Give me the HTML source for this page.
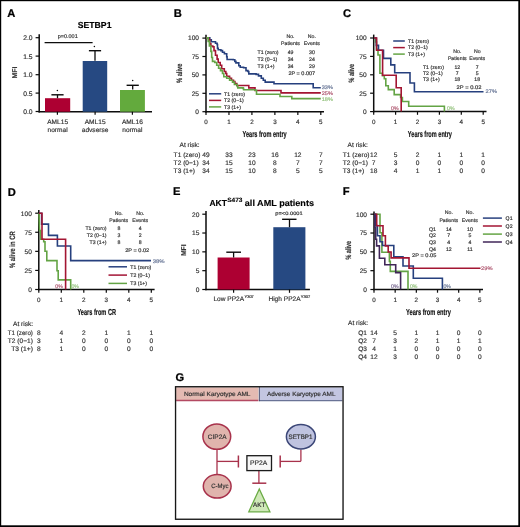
<!DOCTYPE html>
<html><head><meta charset="utf-8"><style>
html,body{margin:0;padding:0;background:#fff;}
body{width:520px;height:527px;overflow:hidden;}
svg{display:block;font-family:"Liberation Sans", sans-serif;text-rendering:geometricPrecision;}
</style></head><body>
<svg width="520" height="527" viewBox="0 0 520 527">
<defs><filter id="bl" x="0" y="0" width="520" height="527" filterUnits="userSpaceOnUse"><feGaussianBlur stdDeviation="0.25"/></filter></defs>
<rect x="0" y="0" width="520" height="527" fill="#fff"/>
<g filter="url(#bl)">
<rect x="0" y="0" width="520" height="527" fill="#fff"/>
<text transform="translate(7.30,17.20) scale(0.1)" x="0" y="0" font-size="112" font-weight="bold" fill="#000" stroke="#000" stroke-width="2.5">A</text>
<text transform="translate(94.60,25.00) scale(0.1)" x="0" y="31.15" font-size="87.00" text-anchor="middle" fill="#000" font-weight="bold" stroke="#000" stroke-width="1.60" textLength="338.00" lengthAdjust="spacingAndGlyphs">SETBP1</text>
<text transform="translate(67.70,36.30) scale(0.1)" x="0" y="19.33" font-size="54.00" text-anchor="middle" fill="#333333" stroke="#333333" stroke-width="1.80" textLength="200.00" lengthAdjust="spacingAndGlyphs">p=0.001</text>
<line x1="44.60" y1="42.60" x2="92.60" y2="42.60" stroke="#0a0a0a" stroke-width="1.35"/>
<line x1="39.20" y1="34.30" x2="39.20" y2="112.40" stroke="#0a0a0a" stroke-width="1.5"/>
<line x1="38.50" y1="111.70" x2="152.00" y2="111.70" stroke="#0a0a0a" stroke-width="1.5"/>
<line x1="35.60" y1="37.70" x2="39.20" y2="37.70" stroke="#0a0a0a" stroke-width="1.2"/>
<text transform="translate(32.60,37.70) scale(0.1)" x="0" y="23.99" font-size="67.00" text-anchor="end" fill="#333333" stroke="#333333" stroke-width="1.80" textLength="94.00" lengthAdjust="spacingAndGlyphs">2.0</text>
<line x1="35.60" y1="56.10" x2="39.20" y2="56.10" stroke="#0a0a0a" stroke-width="1.2"/>
<text transform="translate(32.60,56.10) scale(0.1)" x="0" y="23.99" font-size="67.00" text-anchor="end" fill="#333333" stroke="#333333" stroke-width="1.80" textLength="94.00" lengthAdjust="spacingAndGlyphs">1.5</text>
<line x1="35.60" y1="74.70" x2="39.20" y2="74.70" stroke="#0a0a0a" stroke-width="1.2"/>
<text transform="translate(32.60,74.70) scale(0.1)" x="0" y="23.99" font-size="67.00" text-anchor="end" fill="#333333" stroke="#333333" stroke-width="1.80" textLength="94.00" lengthAdjust="spacingAndGlyphs">1.0</text>
<line x1="35.60" y1="93.10" x2="39.20" y2="93.10" stroke="#0a0a0a" stroke-width="1.2"/>
<text transform="translate(32.60,93.10) scale(0.1)" x="0" y="23.99" font-size="67.00" text-anchor="end" fill="#333333" stroke="#333333" stroke-width="1.80" textLength="94.00" lengthAdjust="spacingAndGlyphs">0.5</text>
<line x1="35.60" y1="111.50" x2="39.20" y2="111.50" stroke="#0a0a0a" stroke-width="1.2"/>
<text transform="translate(32.60,111.50) scale(0.1)" x="0" y="23.99" font-size="67.00" text-anchor="end" fill="#333333" stroke="#333333" stroke-width="1.80" textLength="94.00" lengthAdjust="spacingAndGlyphs">0.0</text>
<text transform="translate(14.00,72.60) rotate(-90) scale(0.1)" x="0" y="25.06" font-size="70.00" text-anchor="middle" fill="#333333" font-weight="bold" stroke="#333333" stroke-width="1.60" textLength="120.00" lengthAdjust="spacingAndGlyphs">MFI</text>
<rect x="45.00" y="98.20" width="25.20" height="13.50" fill="#ad0330" stroke="none" stroke-width="0"/>
<rect x="82.70" y="61.00" width="24.50" height="50.70" fill="#284a82" stroke="none" stroke-width="0"/>
<rect x="120.00" y="90.00" width="24.90" height="21.70" fill="#64aa3c" stroke="none" stroke-width="0"/>
<line x1="57.50" y1="98.20" x2="57.50" y2="94.80" stroke="#0a0a0a" stroke-width="1.3"/>
<line x1="51.40" y1="94.80" x2="63.60" y2="94.80" stroke="#0a0a0a" stroke-width="1.4"/>
<line x1="95.00" y1="60.80" x2="95.00" y2="50.70" stroke="#0a0a0a" stroke-width="1.3"/>
<line x1="88.90" y1="50.70" x2="101.10" y2="50.70" stroke="#0a0a0a" stroke-width="1.4"/>
<line x1="132.70" y1="89.60" x2="132.70" y2="85.30" stroke="#0a0a0a" stroke-width="1.3"/>
<line x1="126.60" y1="85.30" x2="138.80" y2="85.30" stroke="#0a0a0a" stroke-width="1.4"/>
<circle cx="57.4" cy="90.4" r="0.75" fill="#111"/>
<circle cx="94.4" cy="46.5" r="0.75" fill="#111"/>
<circle cx="132.7" cy="80.6" r="0.75" fill="#111"/>
<line x1="57.40" y1="111.70" x2="57.40" y2="114.80" stroke="#0a0a0a" stroke-width="1.2"/>
<line x1="95.10" y1="111.70" x2="95.10" y2="114.80" stroke="#0a0a0a" stroke-width="1.2"/>
<line x1="132.40" y1="111.70" x2="132.40" y2="114.80" stroke="#0a0a0a" stroke-width="1.2"/>
<text transform="translate(57.60,121.80) scale(0.1)" x="0" y="23.63" font-size="66.00" text-anchor="middle" fill="#333333" stroke="#333333" stroke-width="1.80">AML15</text>
<text transform="translate(57.60,130.40) scale(0.1)" x="0" y="17.16" font-size="66.00" text-anchor="middle" fill="#333333" stroke="#333333" stroke-width="1.80">normal</text>
<text transform="translate(95.10,121.80) scale(0.1)" x="0" y="23.63" font-size="66.00" text-anchor="middle" fill="#333333" stroke="#333333" stroke-width="1.80">AML15</text>
<text transform="translate(95.10,130.40) scale(0.1)" x="0" y="17.16" font-size="66.00" text-anchor="middle" fill="#333333" stroke="#333333" stroke-width="1.80">advserse</text>
<text transform="translate(132.40,121.80) scale(0.1)" x="0" y="23.63" font-size="66.00" text-anchor="middle" fill="#333333" stroke="#333333" stroke-width="1.80">AML16</text>
<text transform="translate(132.40,130.40) scale(0.1)" x="0" y="17.16" font-size="66.00" text-anchor="middle" fill="#333333" stroke="#333333" stroke-width="1.80">normal</text>
<text transform="translate(173.80,17.30) scale(0.1)" x="0" y="0" font-size="112" font-weight="bold" fill="#000" stroke="#000" stroke-width="2.5">B</text>
<line x1="206.00" y1="34.70" x2="206.00" y2="112.40" stroke="#0a0a0a" stroke-width="1.5"/>
<line x1="205.30" y1="111.70" x2="324.00" y2="111.70" stroke="#0a0a0a" stroke-width="1.5"/>
<line x1="202.40" y1="38.10" x2="206.00" y2="38.10" stroke="#0a0a0a" stroke-width="1.2"/>
<text transform="translate(199.00,38.10) scale(0.1)" x="0" y="23.63" font-size="66.00" text-anchor="end" fill="#333333" stroke="#333333" stroke-width="1.80">100</text>
<line x1="202.40" y1="56.50" x2="206.00" y2="56.50" stroke="#0a0a0a" stroke-width="1.2"/>
<text transform="translate(199.00,56.50) scale(0.1)" x="0" y="23.63" font-size="66.00" text-anchor="end" fill="#333333" stroke="#333333" stroke-width="1.80">75</text>
<line x1="202.40" y1="74.90" x2="206.00" y2="74.90" stroke="#0a0a0a" stroke-width="1.2"/>
<text transform="translate(199.00,74.90) scale(0.1)" x="0" y="23.63" font-size="66.00" text-anchor="end" fill="#333333" stroke="#333333" stroke-width="1.80">50</text>
<line x1="202.40" y1="93.30" x2="206.00" y2="93.30" stroke="#0a0a0a" stroke-width="1.2"/>
<text transform="translate(199.00,93.30) scale(0.1)" x="0" y="23.63" font-size="66.00" text-anchor="end" fill="#333333" stroke="#333333" stroke-width="1.80">25</text>
<line x1="202.40" y1="111.70" x2="206.00" y2="111.70" stroke="#0a0a0a" stroke-width="1.2"/>
<text transform="translate(199.00,111.70) scale(0.1)" x="0" y="23.63" font-size="66.00" text-anchor="end" fill="#333333" stroke="#333333" stroke-width="1.80">0</text>
<line x1="206.00" y1="111.70" x2="206.00" y2="114.90" stroke="#0a0a0a" stroke-width="1.2"/>
<text transform="translate(206.00,121.50) scale(0.1)" x="0" y="22.55" font-size="63.00" text-anchor="middle" fill="#333333" stroke="#333333" stroke-width="1.80">0</text>
<line x1="228.96" y1="111.70" x2="228.96" y2="114.90" stroke="#0a0a0a" stroke-width="1.2"/>
<text transform="translate(228.96,121.50) scale(0.1)" x="0" y="22.55" font-size="63.00" text-anchor="middle" fill="#333333" stroke="#333333" stroke-width="1.80">1</text>
<line x1="251.92" y1="111.70" x2="251.92" y2="114.90" stroke="#0a0a0a" stroke-width="1.2"/>
<text transform="translate(251.92,121.50) scale(0.1)" x="0" y="22.55" font-size="63.00" text-anchor="middle" fill="#333333" stroke="#333333" stroke-width="1.80">2</text>
<line x1="274.88" y1="111.70" x2="274.88" y2="114.90" stroke="#0a0a0a" stroke-width="1.2"/>
<text transform="translate(274.88,121.50) scale(0.1)" x="0" y="22.55" font-size="63.00" text-anchor="middle" fill="#333333" stroke="#333333" stroke-width="1.80">3</text>
<line x1="297.84" y1="111.70" x2="297.84" y2="114.90" stroke="#0a0a0a" stroke-width="1.2"/>
<text transform="translate(297.84,121.50) scale(0.1)" x="0" y="22.55" font-size="63.00" text-anchor="middle" fill="#333333" stroke="#333333" stroke-width="1.80">4</text>
<line x1="320.80" y1="111.70" x2="320.80" y2="114.90" stroke="#0a0a0a" stroke-width="1.2"/>
<text transform="translate(320.80,121.50) scale(0.1)" x="0" y="22.55" font-size="63.00" text-anchor="middle" fill="#333333" stroke="#333333" stroke-width="1.80">5</text>
<text transform="translate(179.20,73.30) rotate(-90) scale(0.1)" x="0" y="27.92" font-size="78.00" text-anchor="middle" fill="#333333" font-weight="bold" stroke="#333333" stroke-width="1.60" textLength="196.00" lengthAdjust="spacingAndGlyphs">% alive</text>
<text transform="translate(264.60,133.80) scale(0.1)" x="0" y="31.50" font-size="88.00" text-anchor="middle" fill="#111" font-weight="bold" stroke="#111" stroke-width="1.60" textLength="442.00" lengthAdjust="spacingAndGlyphs">Years from entry</text>
<polyline points="206.30,37.90 209.80,37.90 209.80,39.80 211.30,39.80 211.30,41.80 215.50,41.80 215.50,43.30 217.10,43.30 217.10,44.50 217.50,44.50 217.50,48.30 218.20,48.30 218.20,49.80 220.90,49.80 220.90,50.60 222.50,50.60 222.50,52.20 224.40,52.20 224.40,53.70 226.70,53.70 226.70,56.80 227.10,56.80 227.10,59.50 233.20,59.50 233.20,59.80 234.80,59.80 234.80,61.40 235.90,61.40 235.90,62.90 238.80,62.90 238.80,65.80 240.20,65.80 240.20,67.20 243.60,67.20 243.60,67.70 246.00,67.70 246.00,70.60 247.90,70.60 247.90,71.50 248.80,71.50 248.80,73.90 256.10,73.90 256.10,74.40 258.50,74.40 258.50,75.90 261.30,75.90 261.30,78.30 263.30,78.30 263.30,80.20 265.20,80.20 265.20,82.10 273.80,82.10 273.80,82.10 274.00,82.10 274.00,83.80 313.00,83.80 313.00,83.80 313.20,83.80 313.20,87.70 320.80,87.70 320.80,87.70" fill="none" stroke="#27407e" stroke-width="1.6" stroke-linejoin="miter"/>
<polyline points="206.30,37.90 208.60,37.90 208.60,39.80 209.80,39.80 209.80,43.70 210.90,43.70 210.90,46.00 212.80,46.00 212.80,46.80 214.00,46.80 214.00,50.60 215.50,50.60 215.50,55.20 217.10,55.20 217.10,59.10 218.20,59.10 218.20,62.50 220.20,62.50 220.20,65.20 221.70,65.20 221.70,68.70 224.30,68.70 224.30,71.50 225.80,71.50 225.80,73.50 226.70,73.50 226.70,76.30 229.60,76.30 229.60,78.30 231.50,78.30 231.50,80.20 233.50,80.20 233.50,81.60 234.90,81.60 234.90,83.60 236.80,83.60 236.80,85.50 248.40,85.50 248.40,85.50 248.80,85.50 248.80,87.90 254.60,87.90 254.60,87.90 255.00,87.90 255.00,90.50 280.80,90.50 280.80,90.50 281.00,90.50 281.00,92.90 320.80,92.90 320.80,92.90" fill="none" stroke="#a31433" stroke-width="1.6" stroke-linejoin="miter"/>
<polyline points="206.30,37.90 208.20,37.90 208.20,41.40 209.40,41.40 209.40,46.00 210.90,46.00 210.90,51.40 211.70,51.40 211.70,57.50 212.50,57.50 212.50,61.40 214.80,61.40 214.80,62.50 216.70,62.50 216.70,65.20 218.60,65.20 218.60,68.30 220.50,68.30 220.50,70.60 222.50,70.60 222.50,73.50 223.80,73.50 223.80,76.80 226.70,76.80 226.70,78.30 229.60,78.30 229.60,80.20 232.50,80.20 232.50,82.10 234.40,82.10 234.40,84.50 237.30,84.50 237.30,86.40 237.80,86.40 237.80,87.90 243.10,87.90 243.10,88.40 243.60,88.40 243.60,89.80 255.10,89.80 255.10,90.30 256.50,90.30 256.50,94.30 279.70,94.30 279.70,94.30 280.00,94.30 280.00,96.50 291.50,96.50 291.50,96.50 291.80,96.50 291.80,98.60 320.80,98.60 320.80,98.60" fill="none" stroke="#64a444" stroke-width="1.6" stroke-linejoin="miter"/>
<text transform="translate(321.70,87.20) scale(0.1)" x="0" y="18.62" font-size="52.00" text-anchor="start" fill="#6a7898" stroke="#6a7898" stroke-width="1.80" textLength="113.00" lengthAdjust="spacingAndGlyphs">33%</text>
<text transform="translate(321.70,93.00) scale(0.1)" x="0" y="18.62" font-size="52.00" text-anchor="start" fill="#b05a72" stroke="#b05a72" stroke-width="1.80" textLength="113.00" lengthAdjust="spacingAndGlyphs">25%</text>
<text transform="translate(321.70,99.00) scale(0.1)" x="0" y="18.62" font-size="52.00" text-anchor="start" fill="#98c482" stroke="#98c482" stroke-width="1.80" textLength="113.00" lengthAdjust="spacingAndGlyphs">18%</text>
<line x1="209.00" y1="93.80" x2="221.20" y2="93.80" stroke="#27407e" stroke-width="1.5"/>
<text transform="translate(224.00,93.80) scale(0.1)" x="0" y="18.62" font-size="52.00" text-anchor="start" fill="#333333" stroke="#333333" stroke-width="1.80">T1 (zero)</text>
<line x1="209.00" y1="100.40" x2="221.20" y2="100.40" stroke="#a31433" stroke-width="1.5"/>
<text transform="translate(224.00,100.40) scale(0.1)" x="0" y="18.62" font-size="52.00" text-anchor="start" fill="#333333" stroke="#333333" stroke-width="1.80">T2 (0−1)</text>
<line x1="209.00" y1="106.90" x2="221.20" y2="106.90" stroke="#64a444" stroke-width="1.5"/>
<text transform="translate(224.00,106.90) scale(0.1)" x="0" y="18.62" font-size="52.00" text-anchor="start" fill="#333333" stroke="#333333" stroke-width="1.80">T3 (1+)</text>
<text transform="translate(290.50,36.40) scale(0.1)" x="0" y="18.62" font-size="52.00" text-anchor="middle" fill="#333333" stroke="#333333" stroke-width="1.80">No.</text>
<text transform="translate(290.50,43.50) scale(0.1)" x="0" y="18.62" font-size="52.00" text-anchor="middle" fill="#333333" stroke="#333333" stroke-width="1.80">Patients</text>
<text transform="translate(311.80,36.40) scale(0.1)" x="0" y="18.62" font-size="52.00" text-anchor="middle" fill="#333333" stroke="#333333" stroke-width="1.80">No.</text>
<text transform="translate(311.80,43.50) scale(0.1)" x="0" y="18.62" font-size="52.00" text-anchor="middle" fill="#333333" stroke="#333333" stroke-width="1.80">Events</text>
<text transform="translate(257.50,52.60) scale(0.1)" x="0" y="18.62" font-size="52.00" text-anchor="start" fill="#333333" stroke="#333333" stroke-width="1.80">T1 (zero)</text>
<text transform="translate(290.60,52.60) scale(0.1)" x="0" y="18.62" font-size="52.00" text-anchor="middle" fill="#333333" stroke="#333333" stroke-width="1.80">49</text>
<text transform="translate(312.00,52.60) scale(0.1)" x="0" y="18.62" font-size="52.00" text-anchor="middle" fill="#333333" stroke="#333333" stroke-width="1.80">30</text>
<text transform="translate(257.50,59.40) scale(0.1)" x="0" y="18.62" font-size="52.00" text-anchor="start" fill="#333333" stroke="#333333" stroke-width="1.80">T2 (0−1)</text>
<text transform="translate(290.60,59.40) scale(0.1)" x="0" y="18.62" font-size="52.00" text-anchor="middle" fill="#333333" stroke="#333333" stroke-width="1.80">34</text>
<text transform="translate(312.00,59.40) scale(0.1)" x="0" y="18.62" font-size="52.00" text-anchor="middle" fill="#333333" stroke="#333333" stroke-width="1.80">24</text>
<text transform="translate(257.50,66.10) scale(0.1)" x="0" y="18.62" font-size="52.00" text-anchor="start" fill="#333333" stroke="#333333" stroke-width="1.80">T3 (1+)</text>
<text transform="translate(290.60,66.10) scale(0.1)" x="0" y="18.62" font-size="52.00" text-anchor="middle" fill="#333333" stroke="#333333" stroke-width="1.80">34</text>
<text transform="translate(312.00,66.10) scale(0.1)" x="0" y="18.62" font-size="52.00" text-anchor="middle" fill="#333333" stroke="#333333" stroke-width="1.80">29</text>
<text transform="translate(301.80,73.40) scale(0.1)" x="0" y="18.62" font-size="52.00" text-anchor="middle" fill="#333333" stroke="#333333" stroke-width="1.80" textLength="268.00" lengthAdjust="spacingAndGlyphs">2P = 0.007</text>
<text transform="translate(179.50,144.80) scale(0.1)" x="0" y="23.63" font-size="66.00" text-anchor="start" fill="#333333" stroke="#333333" stroke-width="1.80">At risk:</text>
<text transform="translate(173.60,154.90) scale(0.1)" x="0" y="23.63" font-size="66.00" text-anchor="start" fill="#333333" stroke="#333333" stroke-width="1.80">T1 (zero)</text>
<text transform="translate(206.00,154.90) scale(0.1)" x="0" y="23.63" font-size="66.00" text-anchor="middle" fill="#333333" stroke="#333333" stroke-width="1.80">49</text>
<text transform="translate(228.96,154.90) scale(0.1)" x="0" y="23.63" font-size="66.00" text-anchor="middle" fill="#333333" stroke="#333333" stroke-width="1.80">33</text>
<text transform="translate(251.92,154.90) scale(0.1)" x="0" y="23.63" font-size="66.00" text-anchor="middle" fill="#333333" stroke="#333333" stroke-width="1.80">23</text>
<text transform="translate(274.88,154.90) scale(0.1)" x="0" y="23.63" font-size="66.00" text-anchor="middle" fill="#333333" stroke="#333333" stroke-width="1.80">16</text>
<text transform="translate(297.84,154.90) scale(0.1)" x="0" y="23.63" font-size="66.00" text-anchor="middle" fill="#333333" stroke="#333333" stroke-width="1.80">12</text>
<text transform="translate(320.80,154.90) scale(0.1)" x="0" y="23.63" font-size="66.00" text-anchor="middle" fill="#333333" stroke="#333333" stroke-width="1.80">7</text>
<text transform="translate(173.60,162.90) scale(0.1)" x="0" y="23.63" font-size="66.00" text-anchor="start" fill="#333333" stroke="#333333" stroke-width="1.80">T2 (0−1)</text>
<text transform="translate(206.00,162.90) scale(0.1)" x="0" y="23.63" font-size="66.00" text-anchor="middle" fill="#333333" stroke="#333333" stroke-width="1.80">34</text>
<text transform="translate(228.96,162.90) scale(0.1)" x="0" y="23.63" font-size="66.00" text-anchor="middle" fill="#333333" stroke="#333333" stroke-width="1.80">15</text>
<text transform="translate(251.92,162.90) scale(0.1)" x="0" y="23.63" font-size="66.00" text-anchor="middle" fill="#333333" stroke="#333333" stroke-width="1.80">10</text>
<text transform="translate(274.88,162.90) scale(0.1)" x="0" y="23.63" font-size="66.00" text-anchor="middle" fill="#333333" stroke="#333333" stroke-width="1.80">8</text>
<text transform="translate(297.84,162.90) scale(0.1)" x="0" y="23.63" font-size="66.00" text-anchor="middle" fill="#333333" stroke="#333333" stroke-width="1.80">7</text>
<text transform="translate(320.80,162.90) scale(0.1)" x="0" y="23.63" font-size="66.00" text-anchor="middle" fill="#333333" stroke="#333333" stroke-width="1.80">7</text>
<text transform="translate(173.60,170.60) scale(0.1)" x="0" y="23.63" font-size="66.00" text-anchor="start" fill="#333333" stroke="#333333" stroke-width="1.80">T3 (1+)</text>
<text transform="translate(206.00,170.60) scale(0.1)" x="0" y="23.63" font-size="66.00" text-anchor="middle" fill="#333333" stroke="#333333" stroke-width="1.80">34</text>
<text transform="translate(228.96,170.60) scale(0.1)" x="0" y="23.63" font-size="66.00" text-anchor="middle" fill="#333333" stroke="#333333" stroke-width="1.80">15</text>
<text transform="translate(251.92,170.60) scale(0.1)" x="0" y="23.63" font-size="66.00" text-anchor="middle" fill="#333333" stroke="#333333" stroke-width="1.80">10</text>
<text transform="translate(274.88,170.60) scale(0.1)" x="0" y="23.63" font-size="66.00" text-anchor="middle" fill="#333333" stroke="#333333" stroke-width="1.80">8</text>
<text transform="translate(297.84,170.60) scale(0.1)" x="0" y="23.63" font-size="66.00" text-anchor="middle" fill="#333333" stroke="#333333" stroke-width="1.80">5</text>
<text transform="translate(320.80,170.60) scale(0.1)" x="0" y="23.63" font-size="66.00" text-anchor="middle" fill="#333333" stroke="#333333" stroke-width="1.80">5</text>
<text transform="translate(343.00,17.30) scale(0.1)" x="0" y="0" font-size="112" font-weight="bold" fill="#000" stroke="#000" stroke-width="2.5">C</text>
<line x1="373.70" y1="34.60" x2="373.70" y2="112.30" stroke="#0a0a0a" stroke-width="1.5"/>
<line x1="373.00" y1="111.60" x2="486.50" y2="111.60" stroke="#0a0a0a" stroke-width="1.5"/>
<line x1="370.10" y1="38.00" x2="373.70" y2="38.00" stroke="#0a0a0a" stroke-width="1.2"/>
<text transform="translate(366.70,38.00) scale(0.1)" x="0" y="23.63" font-size="66.00" text-anchor="end" fill="#333333" stroke="#333333" stroke-width="1.80">100</text>
<line x1="370.10" y1="56.40" x2="373.70" y2="56.40" stroke="#0a0a0a" stroke-width="1.2"/>
<text transform="translate(366.70,56.40) scale(0.1)" x="0" y="23.63" font-size="66.00" text-anchor="end" fill="#333333" stroke="#333333" stroke-width="1.80">75</text>
<line x1="370.10" y1="74.80" x2="373.70" y2="74.80" stroke="#0a0a0a" stroke-width="1.2"/>
<text transform="translate(366.70,74.80) scale(0.1)" x="0" y="23.63" font-size="66.00" text-anchor="end" fill="#333333" stroke="#333333" stroke-width="1.80">50</text>
<line x1="370.10" y1="93.20" x2="373.70" y2="93.20" stroke="#0a0a0a" stroke-width="1.2"/>
<text transform="translate(366.70,93.20) scale(0.1)" x="0" y="23.63" font-size="66.00" text-anchor="end" fill="#333333" stroke="#333333" stroke-width="1.80">25</text>
<line x1="370.10" y1="111.60" x2="373.70" y2="111.60" stroke="#0a0a0a" stroke-width="1.2"/>
<text transform="translate(366.70,111.60) scale(0.1)" x="0" y="23.63" font-size="66.00" text-anchor="end" fill="#333333" stroke="#333333" stroke-width="1.80">0</text>
<line x1="373.70" y1="111.60" x2="373.70" y2="114.80" stroke="#0a0a0a" stroke-width="1.2"/>
<text transform="translate(373.70,121.40) scale(0.1)" x="0" y="22.55" font-size="63.00" text-anchor="middle" fill="#333333" stroke="#333333" stroke-width="1.80">0</text>
<line x1="395.60" y1="111.60" x2="395.60" y2="114.80" stroke="#0a0a0a" stroke-width="1.2"/>
<text transform="translate(395.60,121.40) scale(0.1)" x="0" y="22.55" font-size="63.00" text-anchor="middle" fill="#333333" stroke="#333333" stroke-width="1.80">1</text>
<line x1="417.50" y1="111.60" x2="417.50" y2="114.80" stroke="#0a0a0a" stroke-width="1.2"/>
<text transform="translate(417.50,121.40) scale(0.1)" x="0" y="22.55" font-size="63.00" text-anchor="middle" fill="#333333" stroke="#333333" stroke-width="1.80">2</text>
<line x1="439.40" y1="111.60" x2="439.40" y2="114.80" stroke="#0a0a0a" stroke-width="1.2"/>
<text transform="translate(439.40,121.40) scale(0.1)" x="0" y="22.55" font-size="63.00" text-anchor="middle" fill="#333333" stroke="#333333" stroke-width="1.80">3</text>
<line x1="461.30" y1="111.60" x2="461.30" y2="114.80" stroke="#0a0a0a" stroke-width="1.2"/>
<text transform="translate(461.30,121.40) scale(0.1)" x="0" y="22.55" font-size="63.00" text-anchor="middle" fill="#333333" stroke="#333333" stroke-width="1.80">4</text>
<line x1="483.20" y1="111.60" x2="483.20" y2="114.80" stroke="#0a0a0a" stroke-width="1.2"/>
<text transform="translate(483.20,121.40) scale(0.1)" x="0" y="22.55" font-size="63.00" text-anchor="middle" fill="#333333" stroke="#333333" stroke-width="1.80">5</text>
<text transform="translate(351.70,73.20) rotate(-90) scale(0.1)" x="0" y="27.92" font-size="78.00" text-anchor="middle" fill="#333333" font-weight="bold" stroke="#333333" stroke-width="1.60" textLength="187.00" lengthAdjust="spacingAndGlyphs">% alive</text>
<text transform="translate(429.90,133.90) scale(0.1)" x="0" y="31.50" font-size="88.00" text-anchor="middle" fill="#111" font-weight="bold" stroke="#111" stroke-width="1.60" textLength="441.00" lengthAdjust="spacingAndGlyphs">Years from entry</text>
<polyline points="374.00,38.00 375.50,38.00 375.50,42.00 376.50,42.00 376.50,49.40 378.00,49.40 378.00,55.00 379.90,55.00 379.90,73.30 382.40,73.30 382.40,75.80 384.30,75.80 384.30,78.80 385.80,78.80 385.80,85.70 388.30,85.70 388.30,89.60 394.20,89.60 394.20,94.60 400.60,94.60 400.60,97.50 402.40,97.50 402.40,101.50 408.70,101.50 408.70,106.20 444.40,106.20 444.40,111.60" fill="none" stroke="#64a444" stroke-width="1.6" stroke-linejoin="miter"/>
<polyline points="374.00,38.00 376.30,38.00 376.30,45.40 378.50,45.40 378.50,50.30 383.50,50.30 383.50,58.40 390.80,58.40 390.80,64.90 394.70,64.90 394.70,72.80 410.00,72.80 410.00,83.00 414.40,83.00 414.40,91.80 483.50,91.80" fill="none" stroke="#27407e" stroke-width="1.6" stroke-linejoin="miter"/>
<polyline points="374.00,38.00 376.60,38.00 376.60,50.30 382.60,50.30 382.60,75.30 396.20,75.30 396.20,87.70 401.20,87.70 401.20,111.60" fill="none" stroke="#a31433" stroke-width="1.6" stroke-linejoin="miter"/>
<text transform="translate(485.60,91.20) scale(0.1)" x="0" y="18.62" font-size="52.00" text-anchor="start" fill="#6a7898" stroke="#6a7898" stroke-width="1.80" textLength="115.00" lengthAdjust="spacingAndGlyphs">27%</text>
<text transform="translate(394.80,107.90) scale(0.1)" x="0" y="18.62" font-size="52.00" text-anchor="middle" fill="#b05a72" stroke="#b05a72" stroke-width="1.80">0%</text>
<text transform="translate(450.80,107.90) scale(0.1)" x="0" y="18.62" font-size="52.00" text-anchor="middle" fill="#98c482" stroke="#98c482" stroke-width="1.80">0%</text>
<line x1="393.20" y1="41.00" x2="404.80" y2="41.00" stroke="#27407e" stroke-width="1.5"/>
<text transform="translate(408.00,41.00) scale(0.1)" x="0" y="18.62" font-size="52.00" text-anchor="start" fill="#333333" stroke="#333333" stroke-width="1.80">T1 (zero)</text>
<line x1="393.20" y1="47.60" x2="404.80" y2="47.60" stroke="#a31433" stroke-width="1.5"/>
<text transform="translate(408.00,47.60) scale(0.1)" x="0" y="18.62" font-size="52.00" text-anchor="start" fill="#333333" stroke="#333333" stroke-width="1.80">T2 (0−1)</text>
<line x1="393.20" y1="54.10" x2="404.80" y2="54.10" stroke="#64a444" stroke-width="1.5"/>
<text transform="translate(408.00,54.10) scale(0.1)" x="0" y="18.62" font-size="52.00" text-anchor="start" fill="#333333" stroke="#333333" stroke-width="1.80">T3 (1+)</text>
<text transform="translate(457.30,51.50) scale(0.1)" x="0" y="18.62" font-size="52.00" text-anchor="middle" fill="#333333" stroke="#333333" stroke-width="1.80">No.</text>
<text transform="translate(457.30,57.80) scale(0.1)" x="0" y="18.62" font-size="52.00" text-anchor="middle" fill="#333333" stroke="#333333" stroke-width="1.80">Patients</text>
<text transform="translate(477.20,51.50) scale(0.1)" x="0" y="18.62" font-size="52.00" text-anchor="middle" fill="#333333" stroke="#333333" stroke-width="1.80">No</text>
<text transform="translate(477.20,57.80) scale(0.1)" x="0" y="18.62" font-size="52.00" text-anchor="middle" fill="#333333" stroke="#333333" stroke-width="1.80">Events</text>
<text transform="translate(422.90,66.80) scale(0.1)" x="0" y="18.62" font-size="52.00" text-anchor="start" fill="#333333" stroke="#333333" stroke-width="1.80">T1 (zero)</text>
<text transform="translate(457.30,66.80) scale(0.1)" x="0" y="18.62" font-size="52.00" text-anchor="middle" fill="#333333" stroke="#333333" stroke-width="1.80">12</text>
<text transform="translate(477.20,66.80) scale(0.1)" x="0" y="18.62" font-size="52.00" text-anchor="middle" fill="#333333" stroke="#333333" stroke-width="1.80">7</text>
<text transform="translate(422.90,73.10) scale(0.1)" x="0" y="18.62" font-size="52.00" text-anchor="start" fill="#333333" stroke="#333333" stroke-width="1.80">T2 (0−1)</text>
<text transform="translate(457.30,73.10) scale(0.1)" x="0" y="18.62" font-size="52.00" text-anchor="middle" fill="#333333" stroke="#333333" stroke-width="1.80">7</text>
<text transform="translate(477.20,73.10) scale(0.1)" x="0" y="18.62" font-size="52.00" text-anchor="middle" fill="#333333" stroke="#333333" stroke-width="1.80">5</text>
<text transform="translate(422.90,79.50) scale(0.1)" x="0" y="18.62" font-size="52.00" text-anchor="start" fill="#333333" stroke="#333333" stroke-width="1.80">T3 (1+)</text>
<text transform="translate(457.30,79.50) scale(0.1)" x="0" y="18.62" font-size="52.00" text-anchor="middle" fill="#333333" stroke="#333333" stroke-width="1.80">18</text>
<text transform="translate(477.20,79.50) scale(0.1)" x="0" y="18.62" font-size="52.00" text-anchor="middle" fill="#333333" stroke="#333333" stroke-width="1.80">18</text>
<text transform="translate(469.00,86.90) scale(0.1)" x="0" y="18.62" font-size="52.00" text-anchor="middle" fill="#333333" stroke="#333333" stroke-width="1.80" textLength="248.00" lengthAdjust="spacingAndGlyphs">2P = 0.02</text>
<text transform="translate(347.60,144.60) scale(0.1)" x="0" y="23.63" font-size="66.00" text-anchor="start" fill="#333333" stroke="#333333" stroke-width="1.80">At risk:</text>
<text transform="translate(342.80,154.30) scale(0.1)" x="0" y="23.63" font-size="66.00" text-anchor="start" fill="#333333" stroke="#333333" stroke-width="1.80">T1 (zero)</text>
<text transform="translate(373.70,154.30) scale(0.1)" x="0" y="23.63" font-size="66.00" text-anchor="middle" fill="#333333" stroke="#333333" stroke-width="1.80">12</text>
<text transform="translate(395.60,154.30) scale(0.1)" x="0" y="23.63" font-size="66.00" text-anchor="middle" fill="#333333" stroke="#333333" stroke-width="1.80">5</text>
<text transform="translate(417.50,154.30) scale(0.1)" x="0" y="23.63" font-size="66.00" text-anchor="middle" fill="#333333" stroke="#333333" stroke-width="1.80">2</text>
<text transform="translate(439.40,154.30) scale(0.1)" x="0" y="23.63" font-size="66.00" text-anchor="middle" fill="#333333" stroke="#333333" stroke-width="1.80">1</text>
<text transform="translate(461.30,154.30) scale(0.1)" x="0" y="23.63" font-size="66.00" text-anchor="middle" fill="#333333" stroke="#333333" stroke-width="1.80">1</text>
<text transform="translate(483.20,154.30) scale(0.1)" x="0" y="23.63" font-size="66.00" text-anchor="middle" fill="#333333" stroke="#333333" stroke-width="1.80">1</text>
<text transform="translate(342.80,162.60) scale(0.1)" x="0" y="23.63" font-size="66.00" text-anchor="start" fill="#333333" stroke="#333333" stroke-width="1.80">T2 (0−1)</text>
<text transform="translate(373.70,162.60) scale(0.1)" x="0" y="23.63" font-size="66.00" text-anchor="middle" fill="#333333" stroke="#333333" stroke-width="1.80">7</text>
<text transform="translate(395.60,162.60) scale(0.1)" x="0" y="23.63" font-size="66.00" text-anchor="middle" fill="#333333" stroke="#333333" stroke-width="1.80">3</text>
<text transform="translate(417.50,162.60) scale(0.1)" x="0" y="23.63" font-size="66.00" text-anchor="middle" fill="#333333" stroke="#333333" stroke-width="1.80">0</text>
<text transform="translate(439.40,162.60) scale(0.1)" x="0" y="23.63" font-size="66.00" text-anchor="middle" fill="#333333" stroke="#333333" stroke-width="1.80">0</text>
<text transform="translate(461.30,162.60) scale(0.1)" x="0" y="23.63" font-size="66.00" text-anchor="middle" fill="#333333" stroke="#333333" stroke-width="1.80">0</text>
<text transform="translate(483.20,162.60) scale(0.1)" x="0" y="23.63" font-size="66.00" text-anchor="middle" fill="#333333" stroke="#333333" stroke-width="1.80">0</text>
<text transform="translate(342.80,170.90) scale(0.1)" x="0" y="23.63" font-size="66.00" text-anchor="start" fill="#333333" stroke="#333333" stroke-width="1.80">T3 (1+)</text>
<text transform="translate(373.70,170.90) scale(0.1)" x="0" y="23.63" font-size="66.00" text-anchor="middle" fill="#333333" stroke="#333333" stroke-width="1.80">18</text>
<text transform="translate(395.60,170.90) scale(0.1)" x="0" y="23.63" font-size="66.00" text-anchor="middle" fill="#333333" stroke="#333333" stroke-width="1.80">4</text>
<text transform="translate(417.50,170.90) scale(0.1)" x="0" y="23.63" font-size="66.00" text-anchor="middle" fill="#333333" stroke="#333333" stroke-width="1.80">1</text>
<text transform="translate(439.40,170.90) scale(0.1)" x="0" y="23.63" font-size="66.00" text-anchor="middle" fill="#333333" stroke="#333333" stroke-width="1.80">1</text>
<text transform="translate(461.30,170.90) scale(0.1)" x="0" y="23.63" font-size="66.00" text-anchor="middle" fill="#333333" stroke="#333333" stroke-width="1.80">0</text>
<text transform="translate(483.20,170.90) scale(0.1)" x="0" y="23.63" font-size="66.00" text-anchor="middle" fill="#333333" stroke="#333333" stroke-width="1.80">0</text>
<text transform="translate(7.70,196.20) scale(0.1)" x="0" y="0" font-size="112" font-weight="bold" fill="#000" stroke="#000" stroke-width="2.5">D</text>
<line x1="38.80" y1="210.00" x2="38.80" y2="290.20" stroke="#0a0a0a" stroke-width="1.5"/>
<line x1="38.10" y1="289.50" x2="154.60" y2="289.50" stroke="#0a0a0a" stroke-width="1.5"/>
<line x1="35.20" y1="213.20" x2="38.80" y2="213.20" stroke="#0a0a0a" stroke-width="1.2"/>
<text transform="translate(31.80,213.20) scale(0.1)" x="0" y="23.63" font-size="66.00" text-anchor="end" fill="#333333" stroke="#333333" stroke-width="1.80">100</text>
<line x1="35.20" y1="232.27" x2="38.80" y2="232.27" stroke="#0a0a0a" stroke-width="1.2"/>
<text transform="translate(31.80,232.27) scale(0.1)" x="0" y="23.63" font-size="66.00" text-anchor="end" fill="#333333" stroke="#333333" stroke-width="1.80">75</text>
<line x1="35.20" y1="251.35" x2="38.80" y2="251.35" stroke="#0a0a0a" stroke-width="1.2"/>
<text transform="translate(31.80,251.35) scale(0.1)" x="0" y="23.63" font-size="66.00" text-anchor="end" fill="#333333" stroke="#333333" stroke-width="1.80">50</text>
<line x1="35.20" y1="270.43" x2="38.80" y2="270.43" stroke="#0a0a0a" stroke-width="1.2"/>
<text transform="translate(31.80,270.43) scale(0.1)" x="0" y="23.63" font-size="66.00" text-anchor="end" fill="#333333" stroke="#333333" stroke-width="1.80">25</text>
<line x1="35.20" y1="289.50" x2="38.80" y2="289.50" stroke="#0a0a0a" stroke-width="1.2"/>
<text transform="translate(31.80,289.50) scale(0.1)" x="0" y="23.63" font-size="66.00" text-anchor="end" fill="#333333" stroke="#333333" stroke-width="1.80">0</text>
<line x1="38.80" y1="289.50" x2="38.80" y2="292.70" stroke="#0a0a0a" stroke-width="1.2"/>
<text transform="translate(38.80,299.30) scale(0.1)" x="0" y="22.55" font-size="63.00" text-anchor="middle" fill="#333333" stroke="#333333" stroke-width="1.80">0</text>
<line x1="61.30" y1="289.50" x2="61.30" y2="292.70" stroke="#0a0a0a" stroke-width="1.2"/>
<text transform="translate(61.30,299.30) scale(0.1)" x="0" y="22.55" font-size="63.00" text-anchor="middle" fill="#333333" stroke="#333333" stroke-width="1.80">1</text>
<line x1="83.80" y1="289.50" x2="83.80" y2="292.70" stroke="#0a0a0a" stroke-width="1.2"/>
<text transform="translate(83.80,299.30) scale(0.1)" x="0" y="22.55" font-size="63.00" text-anchor="middle" fill="#333333" stroke="#333333" stroke-width="1.80">2</text>
<line x1="106.30" y1="289.50" x2="106.30" y2="292.70" stroke="#0a0a0a" stroke-width="1.2"/>
<text transform="translate(106.30,299.30) scale(0.1)" x="0" y="22.55" font-size="63.00" text-anchor="middle" fill="#333333" stroke="#333333" stroke-width="1.80">3</text>
<line x1="128.80" y1="289.50" x2="128.80" y2="292.70" stroke="#0a0a0a" stroke-width="1.2"/>
<text transform="translate(128.80,299.30) scale(0.1)" x="0" y="22.55" font-size="63.00" text-anchor="middle" fill="#333333" stroke="#333333" stroke-width="1.80">4</text>
<line x1="151.30" y1="289.50" x2="151.30" y2="292.70" stroke="#0a0a0a" stroke-width="1.2"/>
<text transform="translate(151.30,299.30) scale(0.1)" x="0" y="22.55" font-size="63.00" text-anchor="middle" fill="#333333" stroke="#333333" stroke-width="1.80">5</text>
<text transform="translate(12.20,249.75) rotate(-90) scale(0.1)" x="0" y="27.92" font-size="78.00" text-anchor="middle" fill="#333333" font-weight="bold" stroke="#333333" stroke-width="1.60" textLength="367.00" lengthAdjust="spacingAndGlyphs">% alive in CR</text>
<text transform="translate(96.70,311.90) scale(0.1)" x="0" y="31.50" font-size="88.00" text-anchor="middle" fill="#111" font-weight="bold" stroke="#111" stroke-width="1.60" textLength="386.00" lengthAdjust="spacingAndGlyphs">Years from CR</text>
<polyline points="39.00,213.20 41.60,213.20 41.60,224.10 48.50,224.10 48.50,235.40 57.40,235.40 57.40,246.00 70.70,246.00 70.70,260.60 151.00,260.60" fill="none" stroke="#27407e" stroke-width="1.6" stroke-linejoin="miter"/>
<polyline points="39.00,213.20 39.60,230.60 40.60,230.60 40.60,239.20 43.70,239.20 43.70,241.80 45.00,241.80 45.00,251.20 46.80,251.20 46.80,260.60 57.00,260.60 57.00,270.80 58.20,270.80 58.20,279.90 70.70,279.90 70.70,289.40" fill="none" stroke="#64a444" stroke-width="1.6" stroke-linejoin="miter"/>
<polyline points="39.00,213.20 42.00,213.20 42.00,239.20 65.60,239.20 65.60,289.40" fill="none" stroke="#a31433" stroke-width="1.6" stroke-linejoin="miter"/>
<text transform="translate(152.70,260.80) scale(0.1)" x="0" y="18.62" font-size="52.00" text-anchor="start" fill="#6a7898" stroke="#6a7898" stroke-width="1.80" textLength="120.00" lengthAdjust="spacingAndGlyphs">38%</text>
<text transform="translate(59.10,285.80) scale(0.1)" x="0" y="18.62" font-size="52.00" text-anchor="middle" fill="#b05a72" stroke="#b05a72" stroke-width="1.80">0%</text>
<text transform="translate(75.20,285.80) scale(0.1)" x="0" y="18.62" font-size="52.00" text-anchor="middle" fill="#98c482" stroke="#98c482" stroke-width="1.80">0%</text>
<line x1="108.50" y1="266.80" x2="127.00" y2="266.80" stroke="#27407e" stroke-width="1.5"/>
<text transform="translate(130.20,266.80) scale(0.1)" x="0" y="18.62" font-size="52.00" text-anchor="start" fill="#333333" stroke="#333333" stroke-width="1.80">T1 (zero)</text>
<line x1="108.50" y1="275.10" x2="127.00" y2="275.10" stroke="#a31433" stroke-width="1.5"/>
<text transform="translate(130.20,275.10) scale(0.1)" x="0" y="18.62" font-size="52.00" text-anchor="start" fill="#333333" stroke="#333333" stroke-width="1.80">T2 (0−1)</text>
<line x1="108.50" y1="283.40" x2="127.00" y2="283.40" stroke="#64a444" stroke-width="1.5"/>
<text transform="translate(130.20,283.40) scale(0.1)" x="0" y="18.62" font-size="52.00" text-anchor="start" fill="#333333" stroke="#333333" stroke-width="1.80">T3 (1+)</text>
<text transform="translate(118.70,212.80) scale(0.1)" x="0" y="18.62" font-size="52.00" text-anchor="middle" fill="#333333" stroke="#333333" stroke-width="1.80">No.</text>
<text transform="translate(118.70,219.70) scale(0.1)" x="0" y="18.62" font-size="52.00" text-anchor="middle" fill="#333333" stroke="#333333" stroke-width="1.80">Patients</text>
<text transform="translate(140.20,212.80) scale(0.1)" x="0" y="18.62" font-size="52.00" text-anchor="middle" fill="#333333" stroke="#333333" stroke-width="1.80">No.</text>
<text transform="translate(140.20,219.70) scale(0.1)" x="0" y="18.62" font-size="52.00" text-anchor="middle" fill="#333333" stroke="#333333" stroke-width="1.80">Events</text>
<text transform="translate(106.50,228.40) scale(0.1)" x="0" y="18.62" font-size="52.00" text-anchor="end" fill="#333333" stroke="#333333" stroke-width="1.80">T1 (zero)</text>
<text transform="translate(118.90,228.40) scale(0.1)" x="0" y="18.62" font-size="52.00" text-anchor="middle" fill="#333333" stroke="#333333" stroke-width="1.80">8</text>
<text transform="translate(140.20,228.40) scale(0.1)" x="0" y="18.62" font-size="52.00" text-anchor="middle" fill="#333333" stroke="#333333" stroke-width="1.80">4</text>
<text transform="translate(106.50,235.30) scale(0.1)" x="0" y="18.62" font-size="52.00" text-anchor="end" fill="#333333" stroke="#333333" stroke-width="1.80">T2 (0−1)</text>
<text transform="translate(118.90,235.30) scale(0.1)" x="0" y="18.62" font-size="52.00" text-anchor="middle" fill="#333333" stroke="#333333" stroke-width="1.80">3</text>
<text transform="translate(140.20,235.30) scale(0.1)" x="0" y="18.62" font-size="52.00" text-anchor="middle" fill="#333333" stroke="#333333" stroke-width="1.80">2</text>
<text transform="translate(106.50,241.90) scale(0.1)" x="0" y="18.62" font-size="52.00" text-anchor="end" fill="#333333" stroke="#333333" stroke-width="1.80">T3 (1+)</text>
<text transform="translate(118.90,241.90) scale(0.1)" x="0" y="18.62" font-size="52.00" text-anchor="middle" fill="#333333" stroke="#333333" stroke-width="1.80">8</text>
<text transform="translate(140.20,241.90) scale(0.1)" x="0" y="18.62" font-size="52.00" text-anchor="middle" fill="#333333" stroke="#333333" stroke-width="1.80">8</text>
<text transform="translate(137.20,250.30) scale(0.1)" x="0" y="18.62" font-size="52.00" text-anchor="middle" fill="#333333" stroke="#333333" stroke-width="1.80" textLength="240.00" lengthAdjust="spacingAndGlyphs">2P = 0.02</text>
<text transform="translate(13.00,323.70) scale(0.1)" x="0" y="23.63" font-size="66.00" text-anchor="start" fill="#333333" stroke="#333333" stroke-width="1.80">At risk:</text>
<text transform="translate(32.90,332.30) scale(0.1)" x="0" y="23.63" font-size="66.00" text-anchor="end" fill="#333333" stroke="#333333" stroke-width="1.80" textLength="251.00" lengthAdjust="spacingAndGlyphs">T1 (zero)</text>
<text transform="translate(38.80,332.30) scale(0.1)" x="0" y="23.63" font-size="66.00" text-anchor="middle" fill="#333333" stroke="#333333" stroke-width="1.80">8</text>
<text transform="translate(61.30,332.30) scale(0.1)" x="0" y="23.63" font-size="66.00" text-anchor="middle" fill="#333333" stroke="#333333" stroke-width="1.80">4</text>
<text transform="translate(83.80,332.30) scale(0.1)" x="0" y="23.63" font-size="66.00" text-anchor="middle" fill="#333333" stroke="#333333" stroke-width="1.80">2</text>
<text transform="translate(106.30,332.30) scale(0.1)" x="0" y="23.63" font-size="66.00" text-anchor="middle" fill="#333333" stroke="#333333" stroke-width="1.80">1</text>
<text transform="translate(128.80,332.30) scale(0.1)" x="0" y="23.63" font-size="66.00" text-anchor="middle" fill="#333333" stroke="#333333" stroke-width="1.80">1</text>
<text transform="translate(151.30,332.30) scale(0.1)" x="0" y="23.63" font-size="66.00" text-anchor="middle" fill="#333333" stroke="#333333" stroke-width="1.80">1</text>
<text transform="translate(32.90,340.60) scale(0.1)" x="0" y="23.63" font-size="66.00" text-anchor="end" fill="#333333" stroke="#333333" stroke-width="1.80" textLength="251.00" lengthAdjust="spacingAndGlyphs">T2 (0−1)</text>
<text transform="translate(38.80,340.60) scale(0.1)" x="0" y="23.63" font-size="66.00" text-anchor="middle" fill="#333333" stroke="#333333" stroke-width="1.80">3</text>
<text transform="translate(61.30,340.60) scale(0.1)" x="0" y="23.63" font-size="66.00" text-anchor="middle" fill="#333333" stroke="#333333" stroke-width="1.80">1</text>
<text transform="translate(83.80,340.60) scale(0.1)" x="0" y="23.63" font-size="66.00" text-anchor="middle" fill="#333333" stroke="#333333" stroke-width="1.80">0</text>
<text transform="translate(106.30,340.60) scale(0.1)" x="0" y="23.63" font-size="66.00" text-anchor="middle" fill="#333333" stroke="#333333" stroke-width="1.80">0</text>
<text transform="translate(128.80,340.60) scale(0.1)" x="0" y="23.63" font-size="66.00" text-anchor="middle" fill="#333333" stroke="#333333" stroke-width="1.80">0</text>
<text transform="translate(151.30,340.60) scale(0.1)" x="0" y="23.63" font-size="66.00" text-anchor="middle" fill="#333333" stroke="#333333" stroke-width="1.80">0</text>
<text transform="translate(32.90,348.20) scale(0.1)" x="0" y="23.63" font-size="66.00" text-anchor="end" fill="#333333" stroke="#333333" stroke-width="1.80" textLength="217.00" lengthAdjust="spacingAndGlyphs">T3 (1+)</text>
<text transform="translate(38.80,348.20) scale(0.1)" x="0" y="23.63" font-size="66.00" text-anchor="middle" fill="#333333" stroke="#333333" stroke-width="1.80">8</text>
<text transform="translate(61.30,348.20) scale(0.1)" x="0" y="23.63" font-size="66.00" text-anchor="middle" fill="#333333" stroke="#333333" stroke-width="1.80">1</text>
<text transform="translate(83.80,348.20) scale(0.1)" x="0" y="23.63" font-size="66.00" text-anchor="middle" fill="#333333" stroke="#333333" stroke-width="1.80">0</text>
<text transform="translate(106.30,348.20) scale(0.1)" x="0" y="23.63" font-size="66.00" text-anchor="middle" fill="#333333" stroke="#333333" stroke-width="1.80">0</text>
<text transform="translate(128.80,348.20) scale(0.1)" x="0" y="23.63" font-size="66.00" text-anchor="middle" fill="#333333" stroke="#333333" stroke-width="1.80">0</text>
<text transform="translate(151.30,348.20) scale(0.1)" x="0" y="23.63" font-size="66.00" text-anchor="middle" fill="#333333" stroke="#333333" stroke-width="1.80">0</text>
<text transform="translate(172.90,195.10) scale(0.1)" x="0" y="0" font-size="112" font-weight="bold" fill="#000" stroke="#000" stroke-width="2.5">E</text>
<text x="209.4" y="205.5" font-size="8.6" font-weight="bold" fill="#000" stroke="#000" stroke-width="0.12" textLength="17.5" lengthAdjust="spacingAndGlyphs">AKT</text>
<text x="227.2" y="201.7" font-size="6.2" font-weight="bold" fill="#000" stroke="#000" stroke-width="0.1" textLength="15.3" lengthAdjust="spacingAndGlyphs">S473</text>
<text x="244.8" y="205.5" font-size="8.8" font-weight="bold" fill="#000" stroke="#000" stroke-width="0.12" textLength="69.2" lengthAdjust="spacingAndGlyphs">all AML patients</text>
<text transform="translate(289.00,213.20) scale(0.1)" x="0" y="17.90" font-size="50.00" text-anchor="middle" fill="#333333" stroke="#333333" stroke-width="1.80" textLength="273.00" lengthAdjust="spacingAndGlyphs">p=&lt;0.0001</text>
<line x1="206.00" y1="211.00" x2="206.00" y2="290.20" stroke="#0a0a0a" stroke-width="1.5"/>
<line x1="205.30" y1="289.50" x2="309.90" y2="289.50" stroke="#0a0a0a" stroke-width="1.5"/>
<line x1="202.30" y1="214.20" x2="206.00" y2="214.20" stroke="#0a0a0a" stroke-width="1.2"/>
<text transform="translate(199.30,214.20) scale(0.1)" x="0" y="23.63" font-size="66.00" text-anchor="end" fill="#333333" stroke="#333333" stroke-width="1.80">20</text>
<line x1="202.30" y1="233.02" x2="206.00" y2="233.02" stroke="#0a0a0a" stroke-width="1.2"/>
<text transform="translate(199.30,233.02) scale(0.1)" x="0" y="23.63" font-size="66.00" text-anchor="end" fill="#333333" stroke="#333333" stroke-width="1.80">15</text>
<line x1="202.30" y1="251.85" x2="206.00" y2="251.85" stroke="#0a0a0a" stroke-width="1.2"/>
<text transform="translate(199.30,251.85) scale(0.1)" x="0" y="23.63" font-size="66.00" text-anchor="end" fill="#333333" stroke="#333333" stroke-width="1.80">10</text>
<line x1="202.30" y1="270.68" x2="206.00" y2="270.68" stroke="#0a0a0a" stroke-width="1.2"/>
<text transform="translate(199.30,270.68) scale(0.1)" x="0" y="23.63" font-size="66.00" text-anchor="end" fill="#333333" stroke="#333333" stroke-width="1.80">5</text>
<line x1="202.30" y1="289.50" x2="206.00" y2="289.50" stroke="#0a0a0a" stroke-width="1.2"/>
<text transform="translate(199.30,289.50) scale(0.1)" x="0" y="23.63" font-size="66.00" text-anchor="end" fill="#333333" stroke="#333333" stroke-width="1.80">0</text>
<text transform="translate(183.40,250.20) rotate(-90) scale(0.1)" x="0" y="25.06" font-size="70.00" text-anchor="middle" fill="#333333" font-weight="bold" stroke="#333333" stroke-width="1.60" textLength="113.00" lengthAdjust="spacingAndGlyphs">MFI</text>
<rect x="217.60" y="257.50" width="32.00" height="32.00" fill="#ad0330" stroke="none" stroke-width="0"/>
<rect x="273.30" y="227.20" width="32.10" height="62.30" fill="#284a82" stroke="none" stroke-width="0"/>
<line x1="233.60" y1="257.50" x2="233.60" y2="252.20" stroke="#0a0a0a" stroke-width="1.3"/>
<line x1="226.30" y1="252.20" x2="241.00" y2="252.20" stroke="#0a0a0a" stroke-width="1.4"/>
<line x1="289.50" y1="227.20" x2="289.50" y2="219.30" stroke="#0a0a0a" stroke-width="1.3"/>
<line x1="282.10" y1="219.30" x2="296.50" y2="219.30" stroke="#0a0a0a" stroke-width="1.4"/>
<line x1="233.60" y1="289.50" x2="233.60" y2="292.80" stroke="#0a0a0a" stroke-width="1.2"/>
<line x1="289.50" y1="289.50" x2="289.50" y2="292.80" stroke="#0a0a0a" stroke-width="1.2"/>
<text transform="translate(213.40,299.10) scale(0.1)" x="0" y="23.63" font-size="66.00" text-anchor="start" fill="#333333" stroke="#333333" stroke-width="1.80" textLength="307.00" lengthAdjust="spacingAndGlyphs">Low PP2A</text>
<text transform="translate(244.60,296.55) scale(0.1)" x="0" y="14.32" font-size="40.00" text-anchor="start" fill="#333333" stroke="#333333" stroke-width="1.80" textLength="92.00" lengthAdjust="spacingAndGlyphs">Y307</text>
<text transform="translate(268.40,299.10) scale(0.1)" x="0" y="23.63" font-size="66.00" text-anchor="start" fill="#333333" stroke="#333333" stroke-width="1.80" textLength="322.00" lengthAdjust="spacingAndGlyphs">High PP2A</text>
<text transform="translate(300.80,296.55) scale(0.1)" x="0" y="14.32" font-size="40.00" text-anchor="start" fill="#333333" stroke="#333333" stroke-width="1.80" textLength="94.00" lengthAdjust="spacingAndGlyphs">Y307</text>
<text transform="translate(342.80,194.80) scale(0.1)" x="0" y="0" font-size="112" font-weight="bold" fill="#000" stroke="#000" stroke-width="2.5">F</text>
<line x1="374.00" y1="211.50" x2="374.00" y2="290.20" stroke="#0a0a0a" stroke-width="1.5"/>
<line x1="373.30" y1="289.50" x2="483.00" y2="289.50" stroke="#0a0a0a" stroke-width="1.5"/>
<line x1="370.40" y1="214.20" x2="374.00" y2="214.20" stroke="#0a0a0a" stroke-width="1.2"/>
<text transform="translate(367.00,214.20) scale(0.1)" x="0" y="23.63" font-size="66.00" text-anchor="end" fill="#333333" stroke="#333333" stroke-width="1.80">100</text>
<line x1="370.40" y1="233.02" x2="374.00" y2="233.02" stroke="#0a0a0a" stroke-width="1.2"/>
<text transform="translate(367.00,233.02) scale(0.1)" x="0" y="23.63" font-size="66.00" text-anchor="end" fill="#333333" stroke="#333333" stroke-width="1.80">75</text>
<line x1="370.40" y1="251.85" x2="374.00" y2="251.85" stroke="#0a0a0a" stroke-width="1.2"/>
<text transform="translate(367.00,251.85) scale(0.1)" x="0" y="23.63" font-size="66.00" text-anchor="end" fill="#333333" stroke="#333333" stroke-width="1.80">50</text>
<line x1="370.40" y1="270.68" x2="374.00" y2="270.68" stroke="#0a0a0a" stroke-width="1.2"/>
<text transform="translate(367.00,270.68) scale(0.1)" x="0" y="23.63" font-size="66.00" text-anchor="end" fill="#333333" stroke="#333333" stroke-width="1.80">25</text>
<line x1="370.40" y1="289.50" x2="374.00" y2="289.50" stroke="#0a0a0a" stroke-width="1.2"/>
<text transform="translate(367.00,289.50) scale(0.1)" x="0" y="23.63" font-size="66.00" text-anchor="end" fill="#333333" stroke="#333333" stroke-width="1.80">0</text>
<line x1="374.00" y1="289.50" x2="374.00" y2="292.70" stroke="#0a0a0a" stroke-width="1.2"/>
<text transform="translate(374.00,299.30) scale(0.1)" x="0" y="22.55" font-size="63.00" text-anchor="middle" fill="#333333" stroke="#333333" stroke-width="1.80">0</text>
<line x1="395.17" y1="289.50" x2="395.17" y2="292.70" stroke="#0a0a0a" stroke-width="1.2"/>
<text transform="translate(395.17,299.30) scale(0.1)" x="0" y="22.55" font-size="63.00" text-anchor="middle" fill="#333333" stroke="#333333" stroke-width="1.80">1</text>
<line x1="416.34" y1="289.50" x2="416.34" y2="292.70" stroke="#0a0a0a" stroke-width="1.2"/>
<text transform="translate(416.34,299.30) scale(0.1)" x="0" y="22.55" font-size="63.00" text-anchor="middle" fill="#333333" stroke="#333333" stroke-width="1.80">2</text>
<line x1="437.51" y1="289.50" x2="437.51" y2="292.70" stroke="#0a0a0a" stroke-width="1.2"/>
<text transform="translate(437.51,299.30) scale(0.1)" x="0" y="22.55" font-size="63.00" text-anchor="middle" fill="#333333" stroke="#333333" stroke-width="1.80">3</text>
<line x1="458.68" y1="289.50" x2="458.68" y2="292.70" stroke="#0a0a0a" stroke-width="1.2"/>
<text transform="translate(458.68,299.30) scale(0.1)" x="0" y="22.55" font-size="63.00" text-anchor="middle" fill="#333333" stroke="#333333" stroke-width="1.80">4</text>
<line x1="479.85" y1="289.50" x2="479.85" y2="292.70" stroke="#0a0a0a" stroke-width="1.2"/>
<text transform="translate(479.85,299.30) scale(0.1)" x="0" y="22.55" font-size="63.00" text-anchor="middle" fill="#333333" stroke="#333333" stroke-width="1.80">5</text>
<text transform="translate(348.00,250.25) rotate(-90) scale(0.1)" x="0" y="27.92" font-size="78.00" text-anchor="middle" fill="#333333" font-weight="bold" stroke="#333333" stroke-width="1.60" textLength="187.00" lengthAdjust="spacingAndGlyphs">% alive</text>
<text transform="translate(428.40,311.90) scale(0.1)" x="0" y="31.50" font-size="88.00" text-anchor="middle" fill="#111" font-weight="bold" stroke="#111" stroke-width="1.60" textLength="448.00" lengthAdjust="spacingAndGlyphs">Years from entry</text>
<polyline points="374.20,214.30 380.00,214.30 380.00,232.80 381.90,232.80 381.90,252.30 389.40,252.30 389.40,261.40 390.30,261.40 390.30,271.40 408.00,271.40 408.00,289.50" fill="none" stroke="#64a444" stroke-width="1.6" stroke-linejoin="miter"/>
<polyline points="374.20,214.30 375.70,214.30 375.70,225.50 377.40,225.50 377.40,235.80 380.00,235.80 380.00,241.80 382.50,241.80 382.50,245.50 393.80,245.50 393.80,256.80 403.00,256.80 403.00,266.00 413.30,266.00 413.30,278.20 442.40,278.20 442.40,289.50" fill="none" stroke="#27407e" stroke-width="1.6" stroke-linejoin="miter"/>
<polyline points="374.20,214.30 376.70,214.30 376.70,225.80 383.00,225.80 383.00,235.80 385.40,235.80 385.40,246.00 388.20,246.00 388.20,252.00 391.10,252.00 391.10,257.90 409.00,257.90 409.00,268.20 480.50,268.20" fill="none" stroke="#a31433" stroke-width="1.6" stroke-linejoin="miter"/>
<polyline points="374.20,214.30 374.80,214.30 374.80,227.20 375.70,227.20 375.70,239.20 376.60,239.20 376.60,245.90 379.40,245.90 379.40,258.30 384.80,258.30 384.80,264.70 395.70,264.70 395.70,272.60 400.60,272.60 400.60,289.50" fill="none" stroke="#3f2658" stroke-width="1.6" stroke-linejoin="miter"/>
<text transform="translate(481.00,268.10) scale(0.1)" x="0" y="18.62" font-size="52.00" text-anchor="start" fill="#b05a72" stroke="#b05a72" stroke-width="1.80" textLength="115.00" lengthAdjust="spacingAndGlyphs">29%</text>
<text transform="translate(394.80,286.10) scale(0.1)" x="0" y="18.62" font-size="52.00" text-anchor="middle" fill="#7a6a92" stroke="#7a6a92" stroke-width="1.80">0%</text>
<text transform="translate(413.70,286.10) scale(0.1)" x="0" y="18.62" font-size="52.00" text-anchor="middle" fill="#98c482" stroke="#98c482" stroke-width="1.80">0%</text>
<text transform="translate(447.20,286.10) scale(0.1)" x="0" y="18.62" font-size="52.00" text-anchor="middle" fill="#6a7898" stroke="#6a7898" stroke-width="1.80">0%</text>
<line x1="482.90" y1="218.10" x2="501.90" y2="218.10" stroke="#27407e" stroke-width="1.5"/>
<text transform="translate(505.60,218.10) scale(0.1)" x="0" y="18.62" font-size="52.00" text-anchor="start" fill="#333333" stroke="#333333" stroke-width="1.80">Q1</text>
<line x1="482.90" y1="226.00" x2="501.90" y2="226.00" stroke="#a31433" stroke-width="1.5"/>
<text transform="translate(505.60,226.00) scale(0.1)" x="0" y="18.62" font-size="52.00" text-anchor="start" fill="#333333" stroke="#333333" stroke-width="1.80">Q2</text>
<line x1="482.90" y1="234.10" x2="501.90" y2="234.10" stroke="#64a444" stroke-width="1.5"/>
<text transform="translate(505.60,234.10) scale(0.1)" x="0" y="18.62" font-size="52.00" text-anchor="start" fill="#333333" stroke="#333333" stroke-width="1.80">Q3</text>
<line x1="482.90" y1="242.00" x2="501.90" y2="242.00" stroke="#3f2658" stroke-width="1.5"/>
<text transform="translate(505.60,242.00) scale(0.1)" x="0" y="18.62" font-size="52.00" text-anchor="start" fill="#333333" stroke="#333333" stroke-width="1.80">Q4</text>
<text transform="translate(448.80,212.40) scale(0.1)" x="0" y="18.62" font-size="52.00" text-anchor="middle" fill="#333333" stroke="#333333" stroke-width="1.80">No.</text>
<text transform="translate(448.80,219.90) scale(0.1)" x="0" y="18.62" font-size="52.00" text-anchor="middle" fill="#333333" stroke="#333333" stroke-width="1.80">Patients</text>
<text transform="translate(469.80,212.40) scale(0.1)" x="0" y="18.62" font-size="52.00" text-anchor="middle" fill="#333333" stroke="#333333" stroke-width="1.80">No.</text>
<text transform="translate(469.80,219.90) scale(0.1)" x="0" y="18.62" font-size="52.00" text-anchor="middle" fill="#333333" stroke="#333333" stroke-width="1.80">Events</text>
<text transform="translate(436.00,228.90) scale(0.1)" x="0" y="18.62" font-size="52.00" text-anchor="end" fill="#333333" stroke="#333333" stroke-width="1.80">Q1</text>
<text transform="translate(448.80,228.90) scale(0.1)" x="0" y="18.62" font-size="52.00" text-anchor="middle" fill="#333333" stroke="#333333" stroke-width="1.80">14</text>
<text transform="translate(470.00,228.90) scale(0.1)" x="0" y="18.62" font-size="52.00" text-anchor="middle" fill="#333333" stroke="#333333" stroke-width="1.80">10</text>
<text transform="translate(436.00,235.60) scale(0.1)" x="0" y="18.62" font-size="52.00" text-anchor="end" fill="#333333" stroke="#333333" stroke-width="1.80">Q2</text>
<text transform="translate(448.80,235.60) scale(0.1)" x="0" y="18.62" font-size="52.00" text-anchor="middle" fill="#333333" stroke="#333333" stroke-width="1.80">7</text>
<text transform="translate(470.00,235.60) scale(0.1)" x="0" y="18.62" font-size="52.00" text-anchor="middle" fill="#333333" stroke="#333333" stroke-width="1.80">5</text>
<text transform="translate(436.00,242.00) scale(0.1)" x="0" y="18.62" font-size="52.00" text-anchor="end" fill="#333333" stroke="#333333" stroke-width="1.80">Q3</text>
<text transform="translate(448.80,242.00) scale(0.1)" x="0" y="18.62" font-size="52.00" text-anchor="middle" fill="#333333" stroke="#333333" stroke-width="1.80">4</text>
<text transform="translate(470.00,242.00) scale(0.1)" x="0" y="18.62" font-size="52.00" text-anchor="middle" fill="#333333" stroke="#333333" stroke-width="1.80">4</text>
<text transform="translate(436.00,249.00) scale(0.1)" x="0" y="18.62" font-size="52.00" text-anchor="end" fill="#333333" stroke="#333333" stroke-width="1.80">Q4</text>
<text transform="translate(448.80,249.00) scale(0.1)" x="0" y="18.62" font-size="52.00" text-anchor="middle" fill="#333333" stroke="#333333" stroke-width="1.80">12</text>
<text transform="translate(470.00,249.00) scale(0.1)" x="0" y="18.62" font-size="52.00" text-anchor="middle" fill="#333333" stroke="#333333" stroke-width="1.80">11</text>
<text transform="translate(424.20,255.10) scale(0.1)" x="0" y="18.62" font-size="52.00" text-anchor="middle" fill="#333333" stroke="#333333" stroke-width="1.80" textLength="242.00" lengthAdjust="spacingAndGlyphs">2P = 0.05</text>
<text transform="translate(348.00,322.90) scale(0.1)" x="0" y="23.63" font-size="66.00" text-anchor="start" fill="#333333" stroke="#333333" stroke-width="1.80">At risk:</text>
<text transform="translate(358.20,332.40) scale(0.1)" x="0" y="23.63" font-size="66.00" text-anchor="start" fill="#333333" stroke="#333333" stroke-width="1.80">Q1</text>
<text transform="translate(374.00,332.40) scale(0.1)" x="0" y="23.63" font-size="66.00" text-anchor="middle" fill="#333333" stroke="#333333" stroke-width="1.80">14</text>
<text transform="translate(395.17,332.40) scale(0.1)" x="0" y="23.63" font-size="66.00" text-anchor="middle" fill="#333333" stroke="#333333" stroke-width="1.80">5</text>
<text transform="translate(416.34,332.40) scale(0.1)" x="0" y="23.63" font-size="66.00" text-anchor="middle" fill="#333333" stroke="#333333" stroke-width="1.80">1</text>
<text transform="translate(437.51,332.40) scale(0.1)" x="0" y="23.63" font-size="66.00" text-anchor="middle" fill="#333333" stroke="#333333" stroke-width="1.80">1</text>
<text transform="translate(458.68,332.40) scale(0.1)" x="0" y="23.63" font-size="66.00" text-anchor="middle" fill="#333333" stroke="#333333" stroke-width="1.80">0</text>
<text transform="translate(479.85,332.40) scale(0.1)" x="0" y="23.63" font-size="66.00" text-anchor="middle" fill="#333333" stroke="#333333" stroke-width="1.80">0</text>
<text transform="translate(358.20,340.80) scale(0.1)" x="0" y="23.63" font-size="66.00" text-anchor="start" fill="#333333" stroke="#333333" stroke-width="1.80">Q2</text>
<text transform="translate(374.00,340.80) scale(0.1)" x="0" y="23.63" font-size="66.00" text-anchor="middle" fill="#333333" stroke="#333333" stroke-width="1.80">7</text>
<text transform="translate(395.17,340.80) scale(0.1)" x="0" y="23.63" font-size="66.00" text-anchor="middle" fill="#333333" stroke="#333333" stroke-width="1.80">3</text>
<text transform="translate(416.34,340.80) scale(0.1)" x="0" y="23.63" font-size="66.00" text-anchor="middle" fill="#333333" stroke="#333333" stroke-width="1.80">2</text>
<text transform="translate(437.51,340.80) scale(0.1)" x="0" y="23.63" font-size="66.00" text-anchor="middle" fill="#333333" stroke="#333333" stroke-width="1.80">1</text>
<text transform="translate(458.68,340.80) scale(0.1)" x="0" y="23.63" font-size="66.00" text-anchor="middle" fill="#333333" stroke="#333333" stroke-width="1.80">1</text>
<text transform="translate(479.85,340.80) scale(0.1)" x="0" y="23.63" font-size="66.00" text-anchor="middle" fill="#333333" stroke="#333333" stroke-width="1.80">1</text>
<text transform="translate(358.20,348.60) scale(0.1)" x="0" y="23.63" font-size="66.00" text-anchor="start" fill="#333333" stroke="#333333" stroke-width="1.80">Q3</text>
<text transform="translate(374.00,348.60) scale(0.1)" x="0" y="23.63" font-size="66.00" text-anchor="middle" fill="#333333" stroke="#333333" stroke-width="1.80">4</text>
<text transform="translate(395.17,348.60) scale(0.1)" x="0" y="23.63" font-size="66.00" text-anchor="middle" fill="#333333" stroke="#333333" stroke-width="1.80">1</text>
<text transform="translate(416.34,348.60) scale(0.1)" x="0" y="23.63" font-size="66.00" text-anchor="middle" fill="#333333" stroke="#333333" stroke-width="1.80">0</text>
<text transform="translate(437.51,348.60) scale(0.1)" x="0" y="23.63" font-size="66.00" text-anchor="middle" fill="#333333" stroke="#333333" stroke-width="1.80">0</text>
<text transform="translate(458.68,348.60) scale(0.1)" x="0" y="23.63" font-size="66.00" text-anchor="middle" fill="#333333" stroke="#333333" stroke-width="1.80">0</text>
<text transform="translate(479.85,348.60) scale(0.1)" x="0" y="23.63" font-size="66.00" text-anchor="middle" fill="#333333" stroke="#333333" stroke-width="1.80">0</text>
<text transform="translate(358.20,356.40) scale(0.1)" x="0" y="23.63" font-size="66.00" text-anchor="start" fill="#333333" stroke="#333333" stroke-width="1.80">Q4</text>
<text transform="translate(374.00,356.40) scale(0.1)" x="0" y="23.63" font-size="66.00" text-anchor="middle" fill="#333333" stroke="#333333" stroke-width="1.80">12</text>
<text transform="translate(395.17,356.40) scale(0.1)" x="0" y="23.63" font-size="66.00" text-anchor="middle" fill="#333333" stroke="#333333" stroke-width="1.80">3</text>
<text transform="translate(416.34,356.40) scale(0.1)" x="0" y="23.63" font-size="66.00" text-anchor="middle" fill="#333333" stroke="#333333" stroke-width="1.80">0</text>
<text transform="translate(437.51,356.40) scale(0.1)" x="0" y="23.63" font-size="66.00" text-anchor="middle" fill="#333333" stroke="#333333" stroke-width="1.80">0</text>
<text transform="translate(458.68,356.40) scale(0.1)" x="0" y="23.63" font-size="66.00" text-anchor="middle" fill="#333333" stroke="#333333" stroke-width="1.80">0</text>
<text transform="translate(479.85,356.40) scale(0.1)" x="0" y="23.63" font-size="66.00" text-anchor="middle" fill="#333333" stroke="#333333" stroke-width="1.80">0</text>
<text transform="translate(175.60,381.20) scale(0.1)" x="0" y="0" font-size="112" font-weight="bold" fill="#000" stroke="#000" stroke-width="2.5">G</text>
<rect x="176.10" y="387.30" width="82.30" height="12.90" fill="#e4bab2" stroke="none" stroke-width="0"/>
<line x1="176.10" y1="400.60" x2="258.40" y2="400.60" stroke="#b34a62" stroke-width="1.5"/>
<rect x="259.00" y="387.30" width="83.40" height="12.90" fill="#c3c6e1" stroke="none" stroke-width="0"/>
<line x1="259.00" y1="400.60" x2="342.40" y2="400.60" stroke="#6a7396" stroke-width="1.3"/>
<line x1="259.30" y1="387.00" x2="259.30" y2="401.20" stroke="#3f4363" stroke-width="0.9"/>
<rect x="175.55" y="386.75" width="167.50" height="132.50" fill="none" stroke="#141414" stroke-width="1.35"/>
<text transform="translate(217.20,393.90) scale(0.1)" x="0" y="22.20" font-size="62.00" text-anchor="middle" fill="#333" stroke="#333" stroke-width="1.80" textLength="665.00" lengthAdjust="spacingAndGlyphs">Normal Karyotype AML</text>
<text transform="translate(301.20,393.90) scale(0.1)" x="0" y="22.20" font-size="62.00" text-anchor="middle" fill="#333" stroke="#333" stroke-width="1.80" textLength="686.00" lengthAdjust="spacingAndGlyphs">Adverse Karyotype AML</text>
<line x1="217.00" y1="449.00" x2="217.00" y2="474.00" stroke="#a8324c" stroke-width="1.3"/>
<line x1="217.00" y1="461.40" x2="238.40" y2="461.40" stroke="#a8324c" stroke-width="1.3"/>
<line x1="238.40" y1="455.50" x2="238.40" y2="467.50" stroke="#a8324c" stroke-width="1.5"/>
<line x1="300.90" y1="449.50" x2="300.90" y2="461.30" stroke="#a8324c" stroke-width="1.3"/>
<line x1="300.90" y1="461.40" x2="280.20" y2="461.40" stroke="#a8324c" stroke-width="1.3"/>
<line x1="280.20" y1="455.50" x2="280.20" y2="467.50" stroke="#a8324c" stroke-width="1.5"/>
<line x1="258.90" y1="470.80" x2="258.90" y2="483.20" stroke="#a8324c" stroke-width="1.3"/>
<line x1="252.30" y1="483.20" x2="266.30" y2="483.20" stroke="#a8324c" stroke-width="1.5"/>
<ellipse cx="216.8" cy="436.6" rx="13.9" ry="12.7" fill="#e0b4ad" stroke="#a8324c" stroke-width="1.5"/>
<ellipse cx="217.2" cy="486.3" rx="13.9" ry="11.8" fill="#e0b4ad" stroke="#a8324c" stroke-width="1.5"/>
<ellipse cx="300.9" cy="436.8" rx="14.5" ry="12.2" fill="#bfc3e0" stroke="#3b4677" stroke-width="1.5"/>
<rect x="246.90" y="455.70" width="24.60" height="14.90" fill="#f7f7f7" stroke="#1a1a1a" stroke-width="1.3"/>
<polygon points="259.3,489.0 248.8,511.8 269.9,511.8" fill="#cfe8b8" stroke="#6aab45" stroke-width="1.3"/>
<text transform="translate(217.20,436.80) scale(0.1)" x="0" y="23.27" font-size="65.00" text-anchor="middle" fill="#333" stroke="#333" stroke-width="1.80" textLength="188.00" lengthAdjust="spacingAndGlyphs">CIP2A</text>
<text transform="translate(219.80,486.00) scale(0.1)" x="0" y="22.55" font-size="63.00" text-anchor="middle" fill="#333" stroke="#333" stroke-width="1.80" textLength="171.00" lengthAdjust="spacingAndGlyphs">C-Myc</text>
<text transform="translate(300.50,437.00) scale(0.1)" x="0" y="22.91" font-size="64.00" text-anchor="middle" fill="#333" stroke="#333" stroke-width="1.80" textLength="240.00" lengthAdjust="spacingAndGlyphs">SETBP1</text>
<text transform="translate(258.60,462.80) scale(0.1)" x="0" y="23.63" font-size="66.00" text-anchor="middle" fill="#333" stroke="#333" stroke-width="1.80" textLength="173.00" lengthAdjust="spacingAndGlyphs">PP2A</text>
<text transform="translate(259.20,505.20) scale(0.1)" x="0" y="22.91" font-size="64.00" text-anchor="middle" fill="#333" stroke="#333" stroke-width="1.80" textLength="123.00" lengthAdjust="spacingAndGlyphs">AKT</text>
</g>
<rect x="0" y="0" width="520" height="1.2" fill="#000"/>
<rect x="0" y="0" width="1.2" height="527" fill="#000"/>
<rect x="518.3" y="0" width="1.7" height="527" fill="#000"/>
<rect x="0" y="525.3" width="520" height="1.7" fill="#000"/>
</svg>
</body></html>
